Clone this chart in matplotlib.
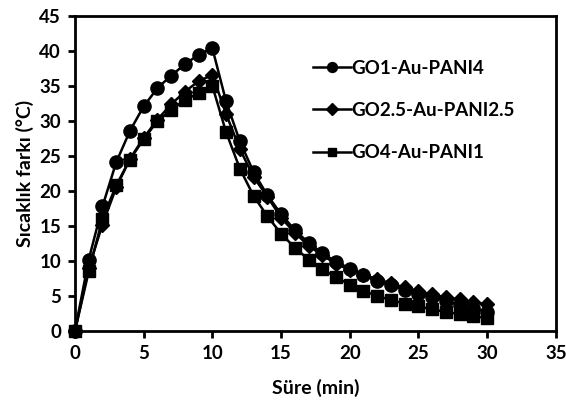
import matplotlib.pyplot as plt

plt.rcParams['font.family'] = ['Lato', 'DejaVu Sans']
plt.rcParams['font.weight'] = 'bold'

time_min = list(range(0, 31))

go1_au_pani4 = [0, 10.2, 17.8, 24.1, 28.6, 32.1, 34.7, 36.5, 38.1, 39.5, 40.4,
                32.8, 27.1, 22.7, 19.4, 16.7, 14.4, 12.6, 11.1, 9.9, 8.9,
                8.0, 7.2, 6.5, 5.9, 5.3, 4.8, 4.3, 3.7, 3.2, 2.7]
go25_au_pani25 = [0, 9.0, 15.2, 20.5, 24.6, 27.6, 30.2, 32.4, 34.2, 35.7, 36.6,
                  31.0, 26.0, 22.0, 19.2, 16.2, 14.0, 12.2, 10.8, 9.6, 8.7,
                  8.0, 7.4, 6.8, 6.2, 5.7, 5.2, 4.8, 4.5, 4.1, 3.8]
go4_au_pani1 = [0, 8.5, 16.0, 20.8, 24.5, 27.4, 30.0, 31.6, 33.0, 34.0, 35.0,
                28.4, 23.2, 19.3, 16.4, 13.9, 11.9, 10.2, 8.8, 7.7, 6.6,
                5.7, 5.0, 4.4, 3.9, 3.5, 3.1, 2.7, 2.4, 2.1, 1.8]

series = [
    ('GO1-Au-PANI4', go1_au_pani4, 'o', 9.5),
    ('GO2.5-Au-PANI2.5', go25_au_pani25, 'D', 7.5),
    ('GO4-Au-PANI1', go4_au_pani1, 's', 8.5),
]

fig = plt.figure(figsize=(5.66, 4.03), dpi=100)
ax = fig.add_axes([0.1325, 0.179, 0.8495, 0.781])

for label, vals, marker, ms in series:
    ax.plot(time_min, vals, color='black', lw=1.8, marker=marker,
            markersize=ms, markerfacecolor='black', markeredgecolor='black',
            label=label, clip_on=False, zorder=3)

ax.set_xlim(0, 35)
ax.set_ylim(0, 45)
ax.set_xticks(range(0, 36, 5))
ax.set_yticks(range(0, 46, 5))
ax.tick_params(direction='out', length=5, width=2, labelsize=13.5, pad=5)
for s in ax.spines.values():
    s.set_linewidth(2)
for lab in ax.get_xticklabels() + ax.get_yticklabels():
    lab.set_fontweight('bold')

ax.set_xlabel('Süre (min)', fontsize=14, fontweight='bold', labelpad=12)
ax.set_ylabel('Sıcaklık farkı (°C)', fontsize=14, fontweight='bold', labelpad=4)

leg = ax.legend(loc='upper left', bbox_to_anchor=(0.46, 0.915), frameon=False,
                fontsize=13.5, handlelength=2.0, handletextpad=0.05,
                labelspacing=1.35, markerscale=0.75)
for t in leg.get_texts():
    t.set_fontweight('bold')

fig.savefig('out.png', dpi=100)
